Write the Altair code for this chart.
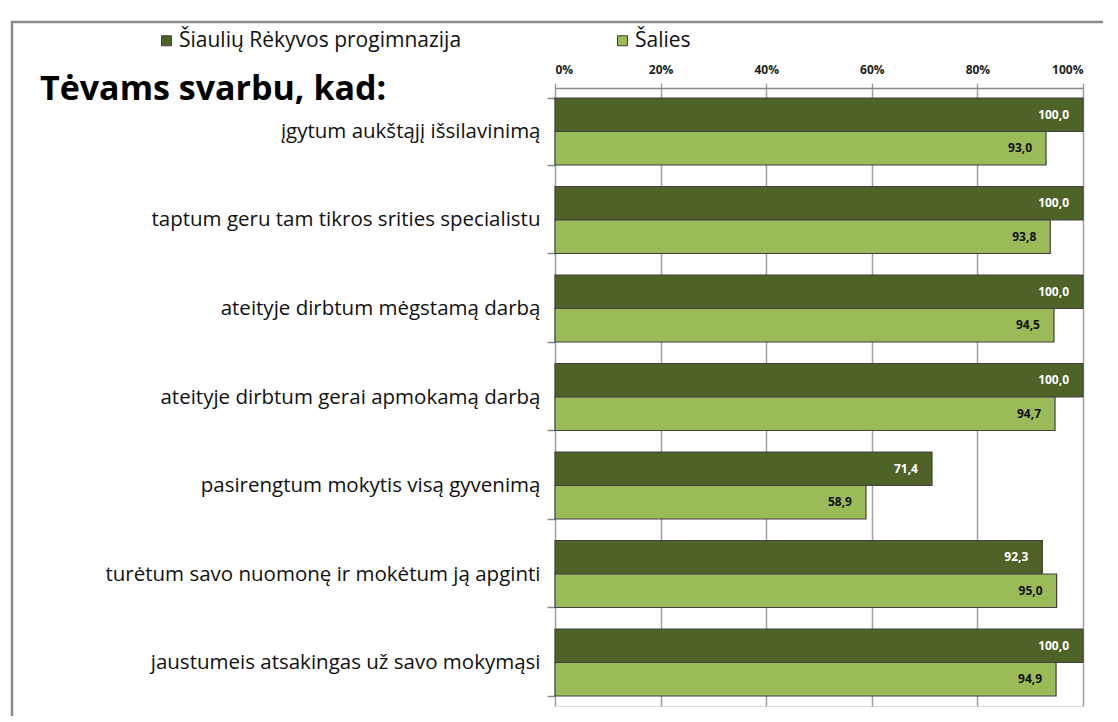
import altair as alt
import pandas as pd

categories = [
    "įgytum aukštąjį išsilavinimą",
    "taptum geru tam tikros srities specialistu",
    "ateityje dirbtum mėgstamą darbą",
    "ateityje dirbtum gerai apmokamą darbą",
    "pasirengtum mokytis visą gyvenimą",
    "turėtum savo nuomonę ir mokėtum ją apginti",
    "jaustumeis atsakingas už savo mokymąsi",
]
series = ["Šiaulių Rėkyvos progimnazija", "Šalies"]
school_values = [100.0, 100.0, 100.0, 100.0, 71.4, 92.3, 100.0]
country_values = [93.0, 93.8, 94.5, 94.7, 58.9, 95.0, 94.9]
x_ticks = [0, 20, 40, 60, 80, 100]
title_text = "Tėvams svarbu, kad:"

rows = []
for c, s, n in zip(categories, school_values, country_values):
    rows.append({"category": c, "series": series[0], "value": s})
    rows.append({"category": c, "series": series[1], "value": n})
df = pd.DataFrame(rows)

FONT = "Open Sans"

y_enc = alt.Y(
    "category:N",
    sort=categories,
    scale=alt.Scale(paddingInner=0.243, paddingOuter=0.113),
    axis=alt.Axis(
        title=None,
        tickBand="extent",
        tickSize=8,
        tickColor="#888888",
        tickWidth=1.5,
        domain=False,
        labelPadding=7,
        labelFontSize=20.5,
        labelFont=FONT,
        labelColor="#111111",
        labelLimit=520,
    ),
)
yoff = alt.YOffset("series:N", sort=series)
x_enc = alt.X(
    "value:Q",
    scale=alt.Scale(domain=[0, 100], nice=False),
    axis=alt.Axis(
        orient="top",
        title=None,
        values=x_ticks,
        labelExpr="datum.value + '%'",
        grid=True,
        gridColor="#a0a0a0",
        gridWidth=1.5,
        ticks=True,
        tickSize=5,
        tickColor="#a0a0a0",
        tickWidth=1.5,
        domain=True,
        domainColor="#888888",
        domainWidth=1.5,
        labelPadding=7,
        labelFontSize=12,
        labelFontWeight="bold",
        labelFont=FONT,
        labelColor="#222222",
    ),
)

frame = alt.Chart(pd.DataFrame({"k": [0]})).mark_rect(
    filled=False, stroke="#8a8a8a", strokeWidth=2.5
).encode(
    x=alt.value(-543), x2=alt.value(555), y=alt.value(-66), y2=alt.value(660)
)

bars = alt.Chart(df).mark_bar(stroke="#404040", strokeWidth=1.2).encode(
    x=x_enc,
    y=y_enc,
    yOffset=yoff,
    color=alt.Color(
        "series:N",
        sort=series,
        scale=alt.Scale(domain=series, range=["#4F6228", "#9BBB59"]),
        legend=alt.Legend(
            title=None,
            orient="none",
            direction="horizontal",
            legendX=-399,
            legendY=-58,
            symbolType="square",
            symbolSize=100,
            symbolStrokeColor="#404040",
            symbolStrokeWidth=1,
            labelFontSize=21,
            labelFont=FONT,
            labelColor="#111111",
            labelLimit=400,
            columnPadding=150,
            labelOffset=2,
        ),
    ),
)

labels = alt.Chart(df).transform_calculate(
    lbl="replace(format(datum.value, '.1f'), '.', ',')"
).mark_text(
    align="right", baseline="middle", dx=-14, fontSize=12, fontWeight="bold", font=FONT
).encode(
    x="value:Q",
    y=alt.Y("category:N", sort=categories),
    yOffset=yoff,
    text="lbl:N",
    color=alt.condition(
        alt.datum.series == series[0], alt.value("white"), alt.value("#111111")
    ),
)

title = alt.Chart(pd.DataFrame({"t": [title_text]})).mark_text(
    align="left", baseline="alphabetic", fontSize=34, fontWeight="bold", font=FONT,
    color="#000000",
).encode(x=alt.value(-515), y=alt.value(12), text="t:N")

chart = alt.layer(frame, bars, labels, title).properties(
    width=528,
    height=618,
    padding={"left": 547, "top": 80, "right": 20, "bottom": 10},
    autosize=alt.AutoSizeParams(type="none"),
).configure_view(
    stroke="#888888", strokeWidth=2
).configure(background="white")

chart.save("out.html", embed_options={"renderer": "svg", "actions": False})
